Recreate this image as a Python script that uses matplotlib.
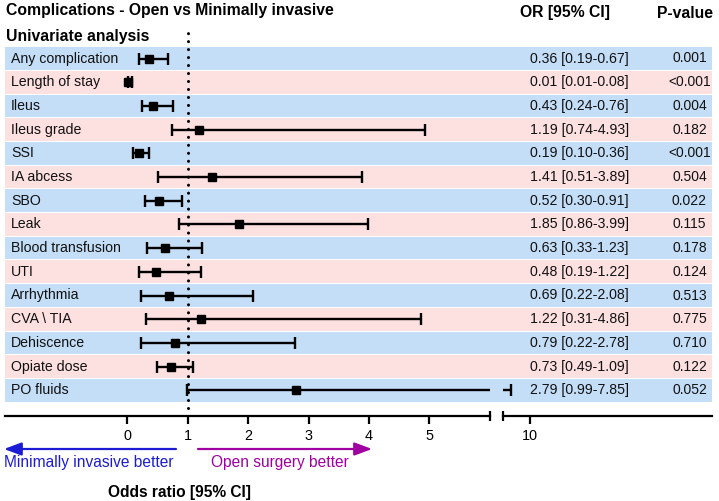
import numpy as np
import matplotlib
matplotlib.use("Agg")
import matplotlib.pyplot as plt

plt.rcParams['font.family'] = ['Liberation Sans', 'DejaVu Sans']

labels = ["Any complication", "Length of stay", "Ileus", "Ileus grade", "SSI",
          "IA abcess", "SBO", "Leak", "Blood transfusion", "UTI", "Arrhythmia",
          "CVA \\ TIA", "Dehiscence", "Opiate dose", "PO fluids"]
or_vals = [0.36, 0.01, 0.43, 1.19, 0.19, 1.41, 0.52, 1.85, 0.63, 0.48, 0.69, 1.22, 0.79, 0.73, 2.79]
ci_low = [0.19, 0.01, 0.24, 0.74, 0.10, 0.51, 0.30, 0.86, 0.33, 0.19, 0.22, 0.31, 0.22, 0.49, 0.99]
ci_high = [0.67, 0.08, 0.76, 4.93, 0.36, 3.89, 0.91, 3.99, 1.23, 1.22, 2.08, 4.86, 2.78, 1.09, 7.85]
p_values = ["0.001", "<0.001", "0.004", "0.182", "<0.001", "0.504", "0.022", "0.115",
            "0.178", "0.124", "0.513", "0.775", "0.710", "0.122", "0.052"]
left_ticks = [0, 1, 2, 3, 4, 5]
right_ticks = [10]

W, H = 719, 501
fig = plt.figure(figsize=(W / 100, H / 100), dpi=100)

def fx(px):
    return px / W

def fy(py):
    return 1 - py / H

BLUE_BAND = '#c4def7'
PINK_BAND = '#fde0e0'
BLUE_TXT = '#1c1cd4'
PURPLE_TXT = '#a000a0'

top_px, bot_px = 30, 415.5
y0, pitch = 58.5, 23.7
ylim = ((bot_px - y0) / pitch, (top_px - y0) / pitch)
ax_h = (bot_px - top_px) / H

n = len(labels)
rows = np.arange(n)

# background bands + text columns
bg = fig.add_axes([fx(5), fy(bot_px), fx(712) - fx(5), ax_h])
bg.set_xlim(5, 712)
bg.set_ylim(*ylim)
bg.axis('off')
band_colors = [BLUE_BAND if i % 2 == 0 else PINK_BAND for i in rows]
bg.barh(rows, 707, left=5, height=0.955, color=band_colors, linewidth=0)
fs = 10.2
for i in rows:
    bg.text(11, i, labels[i], ha='left', va='center', fontsize=fs, color='#111111')
    bg.text(629, i, f"{or_vals[i]:.2f} [{ci_low[i]:.2f}-{ci_high[i]:.2f}]",
            ha='right', va='center', fontsize=fs, color='#111111')
    bg.text(689.5, i, p_values[i], ha='center', va='center', fontsize=10, color='#111111')

# broken x-axis: two panels
axL = fig.add_axes([fx(5), fy(bot_px), fx(490) - fx(5), ax_h], facecolor='none')
axR = fig.add_axes([fx(503), fy(bot_px), fx(712) - fx(503), ax_h], facecolor='none')
x0px, scale = 127.3, 60.4
axL.set_xlim((5 - x0px) / scale, (490 - x0px) / scale)
axR.set_xlim(7, 30)

xerr = [np.array(or_vals) - np.array(ci_low), np.array(ci_high) - np.array(or_vals)]
for ax, ticks in ((axL, left_ticks), (axR, right_ticks)):
    ax.set_ylim(*ylim)
    for s in ('top', 'left', 'right'):
        ax.spines[s].set_visible(False)
    ax.spines['bottom'].set_linewidth(1.6)
    ax.set_yticks([])
    ax.set_xticks(ticks)
    ax.tick_params(axis='x', direction='out', length=6, width=1.6, pad=4,
                   labelsize=10.4, colors='black')
    ax.errorbar(or_vals, rows, xerr=xerr, fmt='s', color='black', ms=6,
                elinewidth=1.7, capsize=4, capthick=1.7, zorder=3)

axL.axvline(1, color='black', lw=2.2, linestyle=(0, (0.01, 2.6)),
            dash_capstyle='round', zorder=2)

# break marks
axL.plot([1], [0], transform=axL.transAxes, marker='|', ms=6.5, mew=1.6,
         color='black', clip_on=False)
axR.plot([0], [0], transform=axR.transAxes, marker='|', ms=6.5, mew=1.6,
         color='black', clip_on=False)

# direction arrows
yf = (bot_px - 449) / (bot_px - top_px)
tr = axL.get_xaxis_transform()
axL.annotate('', xy=((4 - x0px) / scale, yf), xytext=((176 - x0px) / scale, yf),
             xycoords=tr, textcoords=tr, annotation_clip=False,
             arrowprops=dict(arrowstyle='-|>,head_length=0.75,head_width=0.28',
                             color=BLUE_TXT, lw=1.6, shrinkA=0, shrinkB=0,
                             mutation_scale=14))
axL.annotate('', xy=((372 - x0px) / scale, yf), xytext=((198 - x0px) / scale, yf),
             xycoords=tr, textcoords=tr, annotation_clip=False,
             arrowprops=dict(arrowstyle='-|>,head_length=0.75,head_width=0.28',
                             color=PURPLE_TXT, lw=1.6, shrinkA=0, shrinkB=0,
                             mutation_scale=14))

fig.text(fx(4), fy(463), "Minimally invasive better", color=BLUE_TXT,
         fontsize=11.2, ha='left', va='center')
fig.text(fx(211), fy(463), "Open surgery better", color=PURPLE_TXT,
         fontsize=11.2, ha='left', va='center')
fig.text(fx(179), fy(492), "Odds ratio [95% CI]", fontsize=11.2,
         fontweight='bold', ha='center', va='center')

fig.text(fx(6), fy(11), "Complications - Open vs Minimally invasive", fontsize=11.3,
         fontweight='bold', ha='left', va='center')
fig.text(fx(6), fy(36), "Univariate analysis", fontsize=11.3,
         fontweight='bold', ha='left', va='center')
fig.text(fx(564.5), fy(13), "OR [95% CI]", fontsize=11.3,
         fontweight='bold', ha='center', va='center')
fig.text(fx(684.5), fy(13), "P-value", fontsize=11.3,
         fontweight='bold', ha='center', va='center')

fig.savefig('out.png', dpi=100)
